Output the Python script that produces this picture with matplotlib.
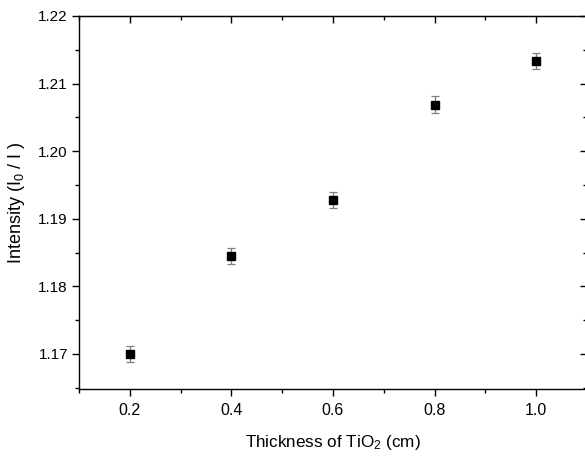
import matplotlib
matplotlib.use("Agg")
import matplotlib.pyplot as plt
from matplotlib.ticker import MultipleLocator

plt.rcParams['font.family'] = ['Liberation Sans', 'DejaVu Sans']
plt.rcParams['mathtext.default'] = 'regular'

# data
thickness = [0.2, 0.4, 0.6, 0.8, 1.0]
intensity = [1.1700, 1.1845, 1.1928, 1.2069, 1.2133]
err = [0.0012, 0.0012, 0.0012, 0.0012, 0.0012]

fig = plt.figure(figsize=(5.85, 4.59), dpi=100)
ax = fig.add_axes([79 / 585, 1 - 389 / 459, 508 / 585, 373 / 459])

ax.errorbar(thickness, intensity, yerr=err, fmt='s', color='black',
            ms=5.8, ecolor='#7f7f7f', elinewidth=0.9, capsize=3,
            capthick=0.9, zorder=3)

ax.set_xlim(0.1, 1.1)
ax.set_ylim(1.1648, 1.22)
ax.xaxis.set_major_locator(MultipleLocator(0.2))
ax.xaxis.set_minor_locator(MultipleLocator(0.1))
ax.yaxis.set_major_locator(MultipleLocator(0.01))
ax.yaxis.set_minor_locator(MultipleLocator(0.005))
ax.set_xticks([0.2, 0.4, 0.6, 0.8, 1.0])
ax.set_xticklabels(['0.2', '0.4', '0.6', '0.8', '1.0'])

for s in ax.spines.values():
    s.set_linewidth(1.0)

ax.tick_params(which='both', direction='out', width=1.0)
ax.tick_params(which='major', length=5)
ax.tick_params(which='minor', length=3)
ax.tick_params(axis='x', labelsize=11.5, pad=5)
ax.tick_params(axis='y', labelsize=11, pad=3)

# mirrored ticks on top and right, pointing inwards
axt = ax.secondary_xaxis('top')
axt.xaxis.set_major_locator(MultipleLocator(0.2))
axt.xaxis.set_minor_locator(MultipleLocator(0.1))
axt.tick_params(which='both', direction='in', labeltop=False, width=1.0)
axt.tick_params(which='major', length=5)
axt.tick_params(which='minor', length=3)
axr = ax.secondary_yaxis('right')
axr.yaxis.set_major_locator(MultipleLocator(0.01))
axr.yaxis.set_minor_locator(MultipleLocator(0.005))
axr.tick_params(which='both', direction='in', labelright=False, width=1.0)
axr.tick_params(which='major', length=5)
axr.tick_params(which='minor', length=3)

ax.set_xlabel('Thickness of TiO$_2$ (cm)', fontsize=12.3, labelpad=11)
ax.set_ylabel('Intensity (I$_0$ / I )', fontsize=13, labelpad=8)

fig.savefig('out.png', dpi=100)
